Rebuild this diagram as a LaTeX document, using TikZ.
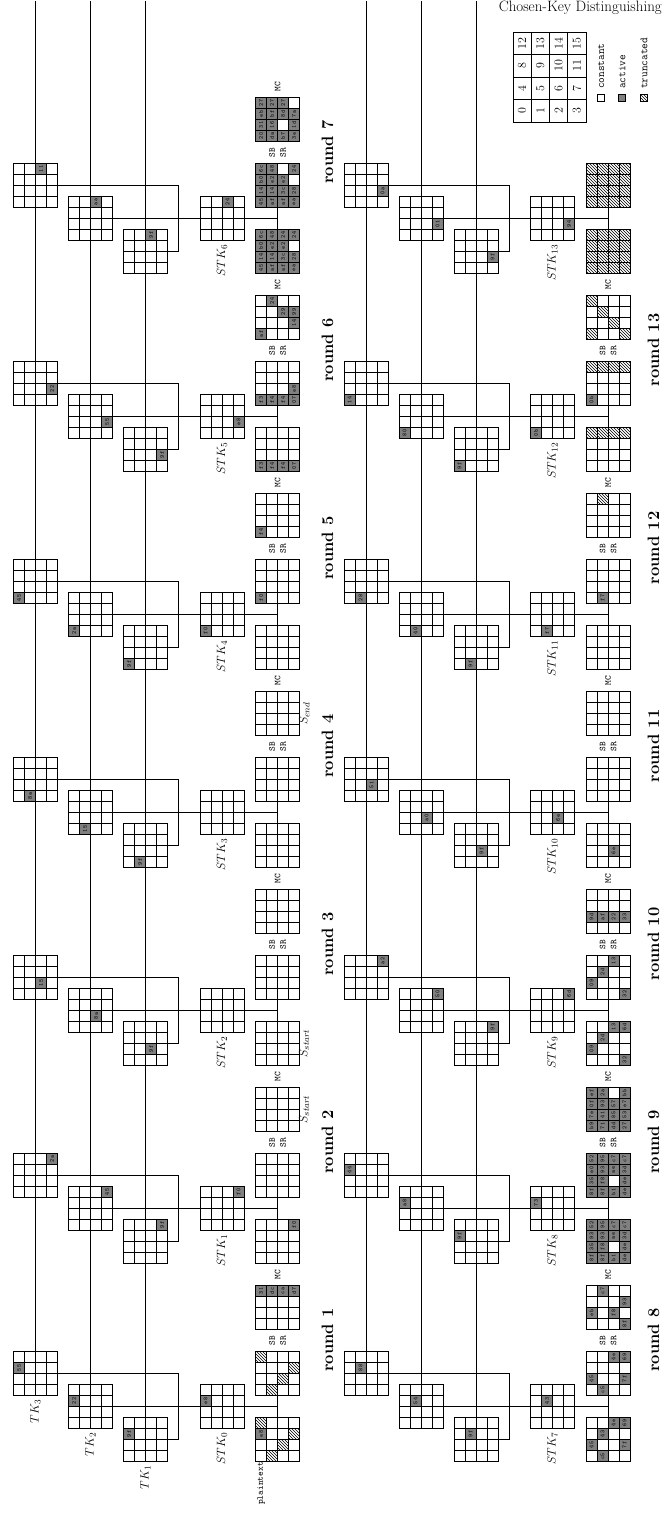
\documentclass[tikz,border=0pt]{standalone}
\usetikzlibrary{patterns}
\pgfdeclarelayer{bg}
\pgfsetlayers{bg,main}
\definecolor{act}{gray}{0.5}
\tikzset{
  gl/.style={line width=0.8pt},
  conn/.style={line width=0.8pt},
  gbox/.style={draw,line width=0.8pt,fill=white,minimum size=44pt,inner sep=0pt,outer sep=0pt},
  hex/.style={font=\fontsize{6}{6}\selectfont\ttfamily,inner sep=0pt},
  ca/.style={fill=act,draw,line width=0.8pt},
  ch/.style={pattern=north west lines,draw,line width=0.8pt},
  lbl/.style={font=\fontsize{13}{14}\selectfont,inner sep=0pt},
  rnd/.style={font=\fontsize{16.5}{18}\selectfont\bfseries,inner sep=0pt},
  op/.style={font=\fontsize{9}{11}\selectfont\ttfamily,inner sep=0pt,align=center},
  legn/.style={font=\fontsize{12}{12}\selectfont,inner sep=0pt},
  legt/.style={font=\fontsize{11}{11}\selectfont\ttfamily,inner sep=0pt,anchor=west},
}
\newcommand\Grid[3]{%
  \node[gbox] (#1) at (#2,#3) {};
  \draw[gl] ({#2-11},{#3-22}) -- ++(0,44) ({#2},{#3-22}) -- ++(0,44) ({#2+11},{#3-22}) -- ++(0,44)
    ({#2-22},{#3-11}) -- ++(44,0) ({#2-22},{#3}) -- ++(44,0) ({#2-22},{#3+11}) -- ++(44,0);
}
\newcommand\GridC[4]{%
  \Grid{#1}{#2}{#3}%
  \foreach \i/\ty/\vl in {#4} {%
    \pgfmathtruncatemacro\gc{floor(\i/4)}%
    \pgfmathtruncatemacro\gr{\i-4*\gc}%
    \path[\ty] ({#2-22+11*\gc},{#3+11-11*\gr}) rectangle ++(11,11);
    \node[hex] at ({#2-16.5+11*\gc},{#3+16.5-11*\gr}) {\vl};
  }%
}
\begin{document}
\begin{tikzpicture}[x=1pt,y=1pt]
\useasboundingbox (0,0) rectangle (662,1524);
\node[anchor=north east,inner sep=0pt,font=\fontsize{15}{16}\selectfont] (title) at (662,1523) {Chosen-Key Distinguishing};
\begin{scope}[rotate=90,transform shape]
\coordinate (top) at (1523,0);
% ---------------- upper half: tweakey grids
\foreach \j/\p/\va/\vb/\vc in {0/8/55/22/9f,1/15/2a/45/9f,2/6/15/8a/9f,3/1/8a/15/9f,4/0/45/2a/9f,5/7/22/55/9f,6/14/11/aa/9f} {
  \GridC{ua\j}{150.5+198*\j}{-35.5}{\p/ca/\va}
  \GridC{ub\j}{117.5+198*\j}{-90.5}{\p/ca/\vb}
  \GridC{uc\j}{84.5+198*\j}{-145.5}{\p/ca/\vc}
}
\foreach \j/\p/\sv in {0/8/e8,1/15/f0,4/0/f0,5/7/e8,6/14/24} {\GridC{us\j}{117.5+198*\j}{-222}{\p/ca/\sv}}
\foreach \j in {2,3} {\Grid{us\j}{117.5+198*\j}{-222}}
% ---------------- lower half: tweakey grids
\foreach \j/\p/\va/\vb/\vc in {0/9/88/54/9f,1/8/44/a8/9f,2/15/a2/50/9f,3/6/51/a0/9f,4/1/28/40/9f,5/0/14/80/9f,6/7/0a/01/9f} {
  \GridC{la\j}{150.5+198*\j}{-366}{\p/ca/\va}
  \GridC{lb\j}{117.5+198*\j}{-421}{\p/ca/\vb}
  \GridC{lc\j}{84.5+198*\j}{-476}{\p/ca/\vc}
}
\foreach \j/\p/\sv in {0/9/43,1/8/73,2/15/6d,3/6/6e,4/1/f7,5/0/0b,6/7/94} {\GridC{ls\j}{117.5+198*\j}{-552.5}{\p/ca/\sv}}
% ---------------- upper states
\GridC{u0}{84.5}{-277.5}{8/ca/e8,1/ch/,6/ch/,11/ch/,12/ch/}
\GridC{u1}{84.5+66}{-277.5}{1/ch/,6/ch/,11/ch/,12/ch/}
\GridC{u2}{84.5+66*2}{-277.5}{12/ca/31,13/ca/dc,14/ca/ca,15/ca/d7}
\GridC{u3}{84.5+66*3}{-277.5}{15/ca/f0}
\foreach \k in {4,...,12} {\Grid{u\k}{84.5+66*\k}{-277.5}}
\GridC{u13}{84.5+66*13}{-277.5}{0/ca/f0}
\GridC{u14}{84.5+66*14}{-277.5}{0/ca/f4}
\GridC{u15}{84.5+66*15}{-277.5}{0/ca/f3,1/ca/f4,2/ca/f4,3/ca/07}
\GridC{u16}{84.5+66*16}{-277.5}{0/ca/f3,1/ca/f4,2/ca/f4,3/ca/07,7/ca/e8}
\GridC{u17}{84.5+66*17}{-277.5}{0/ca/af,13/ca/24,10/ca/29,7/ca/14,11/ca/99}
\GridC{u18}{84.5+66*18}{-277.5}{0/ca/45,4/ca/14,8/ca/b0,12/ca/6c,1/ca/af,5/ca/14,9/ca/e2,13/ca/48,2/ca/af,6/ca/3c,10/ca/e2,14/ca/24,3/ca/ea,7/ca/28,15/ca/24}
\GridC{u19}{84.5+66*19}{-277.5}{0/ca/45,4/ca/14,8/ca/b0,12/ca/6c,1/ca/af,5/ca/14,9/ca/e2,13/ca/48,2/ca/af,6/ca/3c,10/ca/e2,3/ca/ea,7/ca/28,15/ca/24}
\GridC{u20}{84.5+66*20}{-277.5}{0/ca/20,4/ca/31,8/ca/eb,12/ca/27,1/ca/da,5/ca/16,9/ca/bf,13/ca/27,2/ca/b7,10/ca/8d,14/ca/27,3/ca/3e,7/ca/1d,11/ca/7a}
% ---------------- lower states
\GridC{l0}{84.5}{-608}{4/ca/45,1/ca/c5,9/ca/43,14/ca/4e,7/ca/7f,15/ca/69}
\GridC{l1}{84.5+66}{-608}{4/ca/45,1/ca/c5,14/ca/4e,7/ca/7f,15/ca/69}
\GridC{l2}{84.5+66*2}{-608}{13/ca/c7,4/ca/eb,6/ca/f8,11/ca/93,3/ca/8f}
\GridC{l3}{84.5+66*3}{-608}{0/ca/8f,4/ca/35,8/ca/93,12/ca/52,1/ca/8f,5/ca/f8,9/ca/93,13/ca/95,2/ca/b1,10/ca/ae,14/ca/c7,3/ca/de,7/ca/de,11/ca/3d,15/ca/c7}
\GridC{l4}{84.5+66*4}{-608}{0/ca/8f,4/ca/35,8/ca/e0,12/ca/52,1/ca/8f,5/ca/f8,9/ca/93,13/ca/95,2/ca/b1,10/ca/ae,14/ca/c7,3/ca/de,7/ca/de,11/ca/3d,15/ca/c7}
\GridC{l5}{84.5+66*5}{-608}{0/ca/b9,4/ca/7e,8/ca/0f,12/ca/ef,1/ca/71,5/ca/41,9/ca/93,13/ca/2a,2/ca/dd,6/ca/85,10/ca/57,3/ca/27,7/ca/53,11/ca/e7,15/ca/bb}
\GridC{l6}{84.5+66*6}{-608}{4/ca/09,9/ca/2d,14/ca/13,3/ca/32,15/ca/6d}
\GridC{l7}{84.5+66*7}{-608}{4/ca/09,9/ca/2d,14/ca/13,3/ca/32}
\GridC{l8}{84.5+66*8}{-608}{4/ca/9d,5/ca/af,6/ca/22,7/ca/33}
\GridC{l9}{84.5+66*9}{-608}{6/ca/6e}
\foreach \k in {10,11,12} {\Grid{l\k}{84.5+66*\k}{-608}}
\GridC{l13}{84.5+66*13}{-608}{1/ca/f7}
\GridC{l14}{84.5+66*14}{-608}{13/ch/}
\GridC{l15}{84.5+66*15}{-608}{12/ch/,13/ch/,14/ch/,15/ch/}
\GridC{l16}{84.5+66*16}{-608}{12/ch/,13/ch/,14/ch/,15/ch/,0/ca/0b}
\GridC{l17}{84.5+66*17}{-608}{0/ch/,3/ch/,6/ch/,9/ch/,12/ch/}
\GridC{l18}{84.5+66*18}{-608}{0/ch/,1/ch/,2/ch/,3/ch/,4/ch/,5/ch/,6/ch/,7/ch/,8/ch/,9/ch/,10/ch/,11/ch/,12/ch/,13/ch/,14/ch/,15/ch/}
\GridC{l19}{84.5+66*19}{-608}{0/ch/,1/ch/,2/ch/,3/ch/,4/ch/,5/ch/,6/ch/,7/ch/,8/ch/,9/ch/,10/ch/,11/ch/,12/ch/,13/ch/,14/ch/,15/ch/}
% ---------------- labels
\node[lbl,anchor=east] (lt3) at (124.5,-35.5) {$TK_3$};
\node[lbl,anchor=east] (lt2) at (91.5,-90.5) {$TK_2$};
\node[lbl,anchor=east] (lt1) at (58.5,-145.5) {$TK_1$};
\foreach \j in {0,...,6} {
  \node[lbl,anchor=east] at ({91.5+198*\j},-222) {$STK_{\j}$};
  \pgfmathtruncatemacro\kk{\j+7}
  \node[lbl,anchor=east] at ({91.5+198*\j},-552.5) {$STK_{\kk}$};
}
\node[font=\fontsize{9}{9}\selectfont\ttfamily,inner sep=0.5pt,anchor=east] (pt) at (62.5,-261) {plaintext};
\node[lbl,anchor=north] at ({84.5+66*5},-299) {$S_{start}$};
\node[lbl,anchor=north] at ({84.5+66*6},-299) {$S_{start}$};
\node[lbl,anchor=north] at ({84.5+66*11},-299) {$S_{end}$};
\foreach \j in {0,...,6} {
  \node[op] at ({183.5+198*\j},-277.5) {SB\\SR};
  \node[op] at ({249.5+198*\j},-277.5) {MC};
  \pgfmathtruncatemacro\rk{\j+1}
  \node[rnd] at ({184+198*\j},-327.5) {round \rk};
}
\foreach \j in {0,...,5} {
  \node[op] at ({183.5+198*\j},-608) {SB\\SR};
  \node[op] at ({249.5+198*\j},-608) {MC};
  \pgfmathtruncatemacro\rk{\j+8}
  \node[rnd] at ({184+198*\j},-653.5) {round \rk};
}
% ---------------- legend
\node[draw,line width=0.8pt,minimum width=90pt,minimum height=73pt,inner sep=0pt] (leg) at (1447,-549.5) {};
\draw[gl] (1424.5,-513) -- ++(0,-73) (1447,-513) -- ++(0,-73) (1469.5,-513) -- ++(0,-73)
  (1402,-531.25) -- ++(90,0) (1402,-549.5) -- ++(90,0) (1402,-567.75) -- ++(90,0);
\foreach \n in {0,...,15} {
  \pgfmathtruncatemacro\gc{floor(\n/4)}\pgfmathtruncatemacro\gr{\n-4*\gc}
  \node[legn] at ({1413.25+22.5*\gc},{-522.125-18.25*\gr}) {\n};
}
\node[draw,fill=white,line width=0.6pt,minimum size=7pt,inner sep=0pt] (k1) at (1426,-600.5) {};
\node[draw,fill=act,line width=0.6pt,minimum size=7pt,inner sep=0pt] (k2) at (1426,-621.5) {};
\node[draw,pattern=north west lines,line width=0.6pt,minimum size=7pt,inner sep=0pt] (k3) at (1426,-643.5) {};
\node[legt] at (1435,-601) {constant};
\node[legt] at (1435,-622) {active};
\node[legt] at (1435,-644) {truncated};
% ---------------- connectors
\begin{pgfonlayer}{bg}
\fill[white] (0,0) rectangle (1524,-662);
\foreach \n in {ua0,ub0,uc0,la0,lb0,lc0} {\draw[conn] (\n.center) -- (\n.center -| top);}
\foreach \j in {0,...,6} {
  \pgfmathtruncatemacro\ka{3*\j}\pgfmathtruncatemacro\kb{3*\j+1}
  \coordinate (ux\j) at ({150.5+198*\j},-178.5);
  \coordinate (uy\j) at ({84.5+198*\j},-178.5);
  \draw[conn] (ua\j) -- (ux\j) -- (uy\j) -- (uc\j);
  \draw[conn] (ub\j.center) -- (us\j.center |- u\ka.center);
  \draw[conn] (u\ka) -- (u\kb);
  \coordinate (lx\j) at ({150.5+198*\j},-509);
  \coordinate (ly\j) at ({84.5+198*\j},-509);
  \draw[conn] (la\j) -- (lx\j) -- (ly\j) -- (lc\j);
  \draw[conn] (lb\j.center) -- (ls\j.center |- l\ka.center);
  \draw[conn] (l\ka) -- (l\kb);
}
\end{pgfonlayer}
\end{scope}
\end{tikzpicture}
\end{document}
